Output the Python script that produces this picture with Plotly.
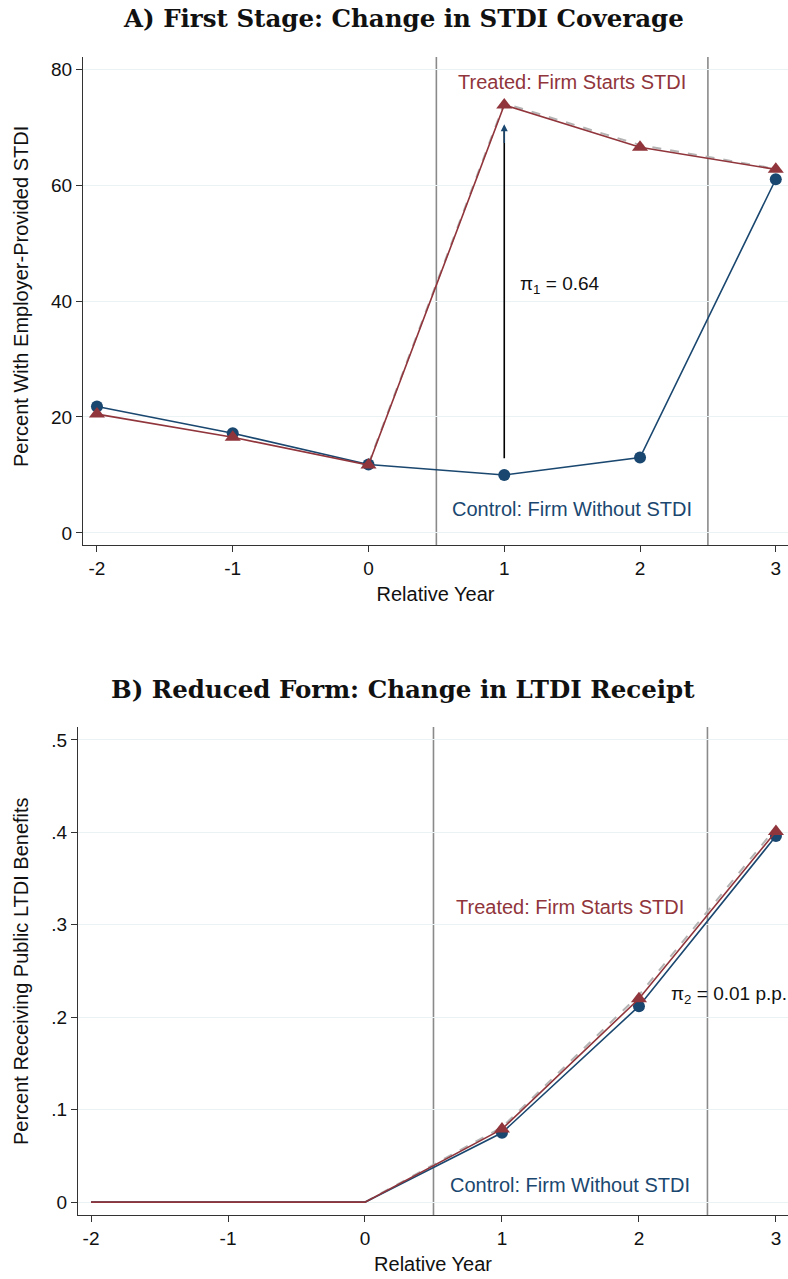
import plotly.graph_objects as go

years = [-2, -1, 0, 1, 2, 3]
year_labels = ["-2", "-1", "0", "1", "2", "3"]

# Panel A: percent with employer-provided STDI
a_control = [21.8, 17.2, 11.8, 10.0, 13.0, 61.0]
a_treated = [20.5, 16.5, 11.7, 73.8, 66.5, 62.7]
a_dash_years = [0, 1, 2, 3]
a_dashed = [11.9, 74.1, 66.9, 62.8]

# Panel B: percent receiving public LTDI benefits
b_control = [0.0, 0.0, 0.0, 0.075, 0.212, 0.396]
b_treated = [0.0, 0.0, 0.0, 0.079, 0.220, 0.401]
b_dash_years = [0, 1, 2, 3]
b_dashed = [0.0, 0.081, 0.224, 0.405]
b_first_marked_year = 1

a_ticks = [0, 20, 40, 60, 80]
b_ticks = [0, 0.1, 0.2, 0.3, 0.4, 0.5]
b_ticktext = ["0", ".1", ".2", ".3", ".4", ".5"]

NAVY = "#1a476f"
RED = "#90353b"
GREY = "#b4b4b4"
VLINE = "#8a8a8a"
GRID = "#eaf2f3"
SANS = "Liberation Sans, Arial, Helvetica, sans-serif"
SERIF = "DejaVu Serif, Liberation Serif, serif"

fig = go.Figure()

def add_panel(xa, ya, control, treated, dash_x, dashed, first_marked=None):
    fig.add_trace(go.Scatter(x=dash_x, y=dashed, mode="lines", xaxis=xa, yaxis=ya,
                             line=dict(color=GREY, width=2, dash="dash"), showlegend=False))
    for vals, color, sym, size in [(control, NAVY, "circle", 12), (treated, RED, "triangle-up", 14)]:
        fig.add_trace(go.Scatter(x=years, y=vals, mode="lines", xaxis=xa, yaxis=ya,
                                 line=dict(color=color, width=1.6), showlegend=False))
        if first_marked is None:
            mx, my = years, vals
        else:
            mx = [x for x in years if x >= first_marked]
            my = [v for x, v in zip(years, vals) if x >= first_marked]
        fig.add_trace(go.Scatter(x=mx, y=my, mode="markers", xaxis=xa, yaxis=ya,
                                 marker=dict(symbol=sym, size=size, color=color, line=dict(width=0)),
                                 showlegend=False))

add_panel("x", "y", a_control, a_treated, a_dash_years, a_dashed)
add_panel("x2", "y2", b_control, b_treated, b_dash_years, b_dashed, b_first_marked_year)

axis_common = dict(showline=True, linecolor="#333333", linewidth=1.2, ticks="outside",
                   ticklen=6, tickcolor="#333333", tickfont=dict(family=SANS, size=19, color="#111"),
                   zeroline=False)
title_font = dict(family=SANS, size=20, color="#111")

fig.update_layout(
    width=788, height=1279, plot_bgcolor="white", paper_bgcolor="white",
    margin=dict(l=0, r=0, t=0, b=0),
    xaxis=dict(domain=[0.1053, 1.0], range=[-2.103, 3.09], anchor="y", tickvals=years, ticktext=year_labels,
               showgrid=False, title=dict(text="Relative Year", font=title_font, standoff=9),
               **axis_common),
    yaxis=dict(domain=[0.5739, 0.9554], range=[-2.07, 82.07], anchor="x", tickvals=a_ticks,
               showgrid=True, gridcolor=GRID, gridwidth=1.2, **axis_common),
    xaxis2=dict(domain=[0.099, 1.0], range=[-2.095, 3.088], anchor="y2", tickvals=years, ticktext=year_labels,
                showgrid=False, title=dict(text="Relative Year", font=title_font, standoff=9),
                **axis_common),
    yaxis2=dict(domain=[0.05, 0.4316], range=[-0.014, 0.514], anchor="x2", tickvals=b_ticks,
                ticktext=b_ticktext, showgrid=True, gridcolor=GRID, gridwidth=1.2, **axis_common),
)

# y-axis titles
fig.add_annotation(xref="paper", yref="paper", x=21 / 788, y=1 - 297 / 1279, textangle=-90,
                   xanchor="center", yanchor="middle",
                   showarrow=False, text="Percent With Employer-Provided STDI", font=title_font)
fig.add_annotation(xref="paper", yref="paper", x=21 / 788, y=1 - 971 / 1279, textangle=-90,
                   xanchor="center", yanchor="middle",
                   showarrow=False, text="Percent Receiving Public LTDI Benefits", font=title_font)

# vertical lines
for xr, yr, lo, hi in [("x", "y", 0.5739, 0.9554), ("x2", "y2", 0.05, 0.4316)]:
    for xv in [0.5, 2.5]:
        fig.add_shape(type="line", xref=xr, yref="paper", x0=xv, x1=xv, y0=lo, y1=hi,
                      line=dict(color=VLINE, width=1.6), layer="below")

# arrow in panel A
fig.add_shape(type="line", xref="x", yref="y", x0=1, x1=1, y0=12.9, y1=70.0,
              line=dict(color="black", width=1.6))
fig.add_annotation(xref="x", yref="y", x=1, y=70.5, ax=1, ay=67.0, axref="x", ayref="y",
                   showarrow=True, arrowhead=2, arrowsize=1, arrowwidth=1.4, arrowcolor=NAVY, text="")

# titles
fig.add_annotation(xref="paper", yref="paper", x=0.512, y=1 - 18 / 1279, yanchor="middle", showarrow=False,
                   text="<b>A) First Stage: Change in STDI Coverage</b>",
                   font=dict(family=SERIF, size=24.5, color="#111"))
fig.add_annotation(xref="paper", yref="paper", x=0.512, y=1 - 690 / 1279, yanchor="middle", showarrow=False,
                   text="<b>B) Reduced Form: Change in LTDI Receipt</b>",
                   font=dict(family=SERIF, size=24.5, color="#111"))

# text labels panel A
fig.add_annotation(xref="x", yref="y", x=1.5, y=77.8, showarrow=False, text="Treated: Firm Starts STDI",
                   font=dict(family=SANS, size=20, color=RED))
fig.add_annotation(xref="x", yref="y", x=1.5, y=4.1, showarrow=False, text="Control: Firm Without STDI",
                   font=dict(family=SANS, size=20, color=NAVY))
fig.add_annotation(xref="x", yref="y", x=1.1, y=42.8, xanchor="left", showarrow=False,
                   text="π<sub>1</sub> = 0.64", font=dict(family=SANS, size=19, color="#111"))

# text labels panel B
fig.add_annotation(xref="x2", yref="y2", x=1.5, y=0.319, showarrow=False, text="Treated: Firm Starts STDI",
                   font=dict(family=SANS, size=20, color=RED))
fig.add_annotation(xref="x2", yref="y2", x=1.5, y=0.018, showarrow=False, text="Control: Firm Without STDI",
                   font=dict(family=SANS, size=20, color=NAVY))
fig.add_annotation(xref="x2", yref="y2", x=2.22, y=0.2245, xanchor="left", showarrow=False,
                   text="π<sub>2</sub> = 0.01 p.p.", font=dict(family=SANS, size=19, color="#111"))

fig.write_html("out.html")
